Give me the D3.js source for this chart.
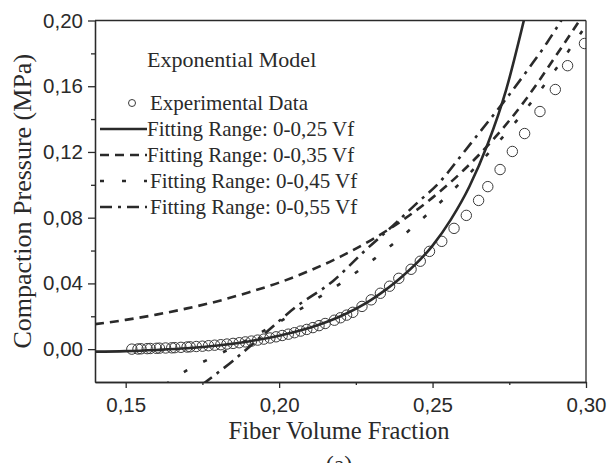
<!DOCTYPE html>
<html>
<head>
<meta charset="utf-8">
<script src="https://cdn.jsdelivr.net/npm/d3@7"></script>
<style>
  body { margin: 0; background: #fff; }
  svg { display: block; }
</style>
</head>
<body>
<div id="chart"></div>
<script>
// compaction pressure vs fiber volume fraction, exponential model fits

const expVf = [0.152, 0.154, 0.155, 0.157, 0.158, 0.160, 0.161, 0.163, 0.165, 0.166,
  0.168, 0.170, 0.171, 0.173, 0.175, 0.177, 0.179, 0.181, 0.183, 0.185,
  0.187, 0.189, 0.191, 0.193, 0.195, 0.197, 0.199, 0.201, 0.203, 0.205,
  0.207, 0.209, 0.211, 0.213, 0.215, 0.218, 0.220, 0.222, 0.224, 0.227,
  0.230, 0.233, 0.236, 0.239, 0.243, 0.246, 0.249, 0.253, 0.257, 0.261,
  0.265, 0.268, 0.272, 0.276, 0.280, 0.285, 0.290, 0.294, 0.2995];
const expP = [0.0000, 0.0001, 0.0002, 0.0003, 0.0004, 0.0005, 0.0006, 0.0007, 0.0008, 0.0009,
  0.0011, 0.0013, 0.0014, 0.0016, 0.0018, 0.0021, 0.0024, 0.0027, 0.0031, 0.0035,
  0.0039, 0.0044, 0.0049, 0.0055, 0.0061, 0.0068, 0.0075, 0.0083, 0.0091, 0.0100,
  0.0110, 0.0120, 0.0131, 0.0143, 0.0156, 0.0176, 0.0191, 0.0207, 0.0224, 0.0260,
  0.0300, 0.0340, 0.0383, 0.0431, 0.0486, 0.0535, 0.0595, 0.0656, 0.0735, 0.0814,
  0.0905, 0.0989, 0.1093, 0.1203, 0.1312, 0.1446, 0.1580, 0.1725, 0.1860];

// fitting range 0-0,25 Vf
const fit25Vf = [0.140, 0.150, 0.160, 0.170, 0.180, 0.190, 0.200, 0.210, 0.220, 0.230,
  0.240, 0.250, 0.256, 0.262, 0.268, 0.274, 0.280];
const fit25P = [-0.0015, -0.0012, -0.0005, 0.0005, 0.0022, 0.0047, 0.0082, 0.0130, 0.0200, 0.0300,
  0.0440, 0.0630, 0.0790, 0.0990, 0.1250, 0.1580, 0.2020];

// fitting range 0-0,35 Vf
const fit35Vf = [0.140, 0.150, 0.160, 0.170, 0.180, 0.190, 0.200, 0.210, 0.220, 0.230,
  0.240, 0.250, 0.260, 0.270, 0.280, 0.290, 0.300];
const fit35P = [0.0152, 0.0178, 0.0210, 0.0248, 0.0292, 0.0345, 0.0405, 0.0478, 0.0563, 0.0664,
  0.0782, 0.0922, 0.1087, 0.1281, 0.1510, 0.1780, 0.2060];

// fitting range 0-0,45 Vf
const fit45Vf = [0.163, 0.170, 0.180, 0.190, 0.200, 0.210, 0.220, 0.230, 0.240, 0.250,
  0.260, 0.270, 0.280, 0.290, 0.300];
const fit45P = [-0.0215, -0.0128, -0.0035, 0.0060, 0.0165, 0.0280, 0.0400, 0.0535, 0.0685, 0.0850,
  0.1030, 0.1230, 0.1450, 0.1700, 0.1970];

// fitting range 0-0,55 Vf
const fit55Vf = [0.175, 0.185, 0.195, 0.205, 0.2176, 0.228, 0.237, 0.245, 0.2525, 0.259,
  0.2645, 0.273, 0.2818, 0.2873, 0.2916, 0.294];
const fit55P = [-0.0215, -0.0070, 0.0090, 0.0250, 0.0415, 0.0600, 0.0750, 0.0890, 0.1020, 0.1170,
  0.1300, 0.1500, 0.1720, 0.1865, 0.1990, 0.2060];

const xTicks = [0.15, 0.20, 0.25, 0.30];
const xMinor = [0.175, 0.225, 0.275];
const yTicks = [0.00, 0.04, 0.08, 0.12, 0.16, 0.20];
const yMinor = [0.02, 0.06, 0.10, 0.14, 0.18];

const legendLabels = ["Experimental Data", "Fitting Range: 0-0,25 Vf", "Fitting Range: 0-0,35 Vf",
  "Fitting Range: 0-0,45 Vf", "Fitting Range: 0-0,55 Vf"];

const width = 608, height = 463;
const margin = {top: 20.5, right: 22, bottom: 81, left: 95};

const svg = d3.select("#chart").append("svg")
  .attr("width", width)
  .attr("height", height);

const x = d3.scaleLinear().domain([0.14, 0.30]).range([margin.left, width - margin.right]);
const y = d3.scaleLinear().domain([-0.02, 0.20]).range([height - margin.bottom, margin.top]);

const fmt = d => d3.format(".2f")(d).replace(".", ",");
const ink = "#2a2a2a";

svg.append("clipPath").attr("id", "clip")
  .append("rect")
  .attr("x", x(0.14)).attr("y", y(0.20))
  .attr("width", x(0.30) - x(0.14)).attr("height", y(-0.02) - y(0.20));

const plot = svg.append("g").attr("clip-path", "url(#clip)");

// experimental points
plot.selectAll("circle.exp")
  .data(expVf)
  .enter()
  .append("circle")
  .attr("class", "exp")
  .attr("cx", d => x(d))
  .attr("cy", (d, i) => y(expP[i]))
  .attr("r", 5.2)
  .attr("fill", "none")
  .attr("stroke", "#3a3a3a")
  .attr("stroke-width", 1);

const line = d3.line()
  .x(d => x(d[0]))
  .y(d => y(d[1]))
  .curve(d3.curveMonotoneX);

const fits = [
  {vf: fit25Vf, p: fit25P, dash: null},
  {vf: fit35Vf, p: fit35P, dash: "9 6"},
  {vf: fit45Vf, p: fit45P, dash: "4 18"},
  {vf: fit55Vf, p: fit55P, dash: "12 6 3 6"}
];

fits.forEach(f => {
  plot.append("path")
    .datum(f.vf.map((v, i) => [v, f.p[i]]))
    .attr("d", line)
    .attr("fill", "none")
    .attr("stroke", ink)
    .attr("stroke-width", 2.6)
    .attr("stroke-dasharray", f.dash);
});

// axes
const xAxis = svg.append("g")
  .attr("transform", "translate(0," + y(-0.02) + ")")
  .call(d3.axisBottom(x).tickValues(xTicks).tickFormat(fmt).tickSize(6).tickSizeOuter(0));
svg.append("g")
  .attr("transform", "translate(0," + y(-0.02) + ")")
  .call(d3.axisBottom(x).tickValues(xMinor).tickFormat("").tickSize(3).tickSizeOuter(0));

const yAxis = svg.append("g")
  .attr("transform", "translate(" + x(0.14) + ",0)")
  .call(d3.axisLeft(y).tickValues(yTicks).tickFormat(fmt).tickSize(7).tickSizeOuter(0));
svg.append("g")
  .attr("transform", "translate(" + x(0.14) + ",0)")
  .call(d3.axisLeft(y).tickValues(yMinor).tickFormat("").tickSize(4).tickSizeOuter(0));

svg.selectAll(".domain, .tick line")
  .attr("stroke", ink)
  .attr("stroke-width", 1.3);

xAxis.selectAll("text")
  .attr("dy", "1.0em")
  .style("font-family", "'Liberation Sans', Arial, sans-serif")
  .style("font-size", "20.5px")
  .attr("fill", ink);
yAxis.selectAll("text")
  .attr("x", -12)
  .style("font-family", "'Liberation Sans', Arial, sans-serif")
  .style("font-size", "20.5px")
  .attr("fill", ink);

// top and right frame
svg.append("line")
  .attr("x1", x(0.14)).attr("x2", x(0.30))
  .attr("y1", y(0.20)).attr("y2", y(0.20))
  .attr("stroke", ink).attr("stroke-width", 1.3);
svg.append("line")
  .attr("x1", x(0.30)).attr("x2", x(0.30))
  .attr("y1", y(0.20)).attr("y2", y(-0.02))
  .attr("stroke", ink).attr("stroke-width", 1.3);

const serif = "'Liberation Serif', 'Times New Roman', serif";

svg.append("text")
  .text("Fiber Volume Fraction")
  .attr("x", 339).attr("y", 439)
  .attr("text-anchor", "middle")
  .style("font-family", serif).style("font-size", "24.5px")
  .attr("fill", ink);

svg.append("text")
  .text("(a)")
  .attr("x", 339).attr("y", 472)
  .attr("text-anchor", "middle")
  .style("font-family", serif).style("font-size", "24px")
  .attr("fill", ink);

svg.append("text")
  .text("Compaction Pressure (MPa)")
  .attr("transform", "translate(31," + ((y(0.20) + y(-0.02)) / 2) + ") rotate(-90)")
  .attr("text-anchor", "middle")
  .style("font-family", serif).style("font-size", "26px")
  .attr("fill", ink);

// legend
const lg = svg.append("g");
lg.append("text")
  .text("Exponential Model")
  .attr("x", 147).attr("y", 67)
  .style("font-family", serif).style("font-size", "22px")
  .attr("fill", ink);

const rowY = [103, 129, 155, 181, 207];
lg.append("circle")
  .attr("cx", 132).attr("cy", rowY[0])
  .attr("r", 3.5)
  .attr("fill", "none").attr("stroke", "#3a3a3a").attr("stroke-width", 1);

fits.forEach((f, i) => {
  lg.append("line")
    .attr("x1", 100).attr("x2", 147)
    .attr("y1", rowY[i + 1]).attr("y2", rowY[i + 1])
    .attr("stroke", ink).attr("stroke-width", 2.6)
    .attr("stroke-dasharray", f.dash);
});

lg.selectAll("text.lab")
  .data(legendLabels)
  .enter()
  .append("text")
  .attr("class", "lab")
  .text(d => d)
  .attr("x", (d, i) => i === 0 || i > 2 ? 150 : 147)
  .attr("y", (d, i) => rowY[i] + 7)
  .style("font-family", serif).style("font-size", "21px")
  .attr("fill", ink);
</script>
</body>
</html>
